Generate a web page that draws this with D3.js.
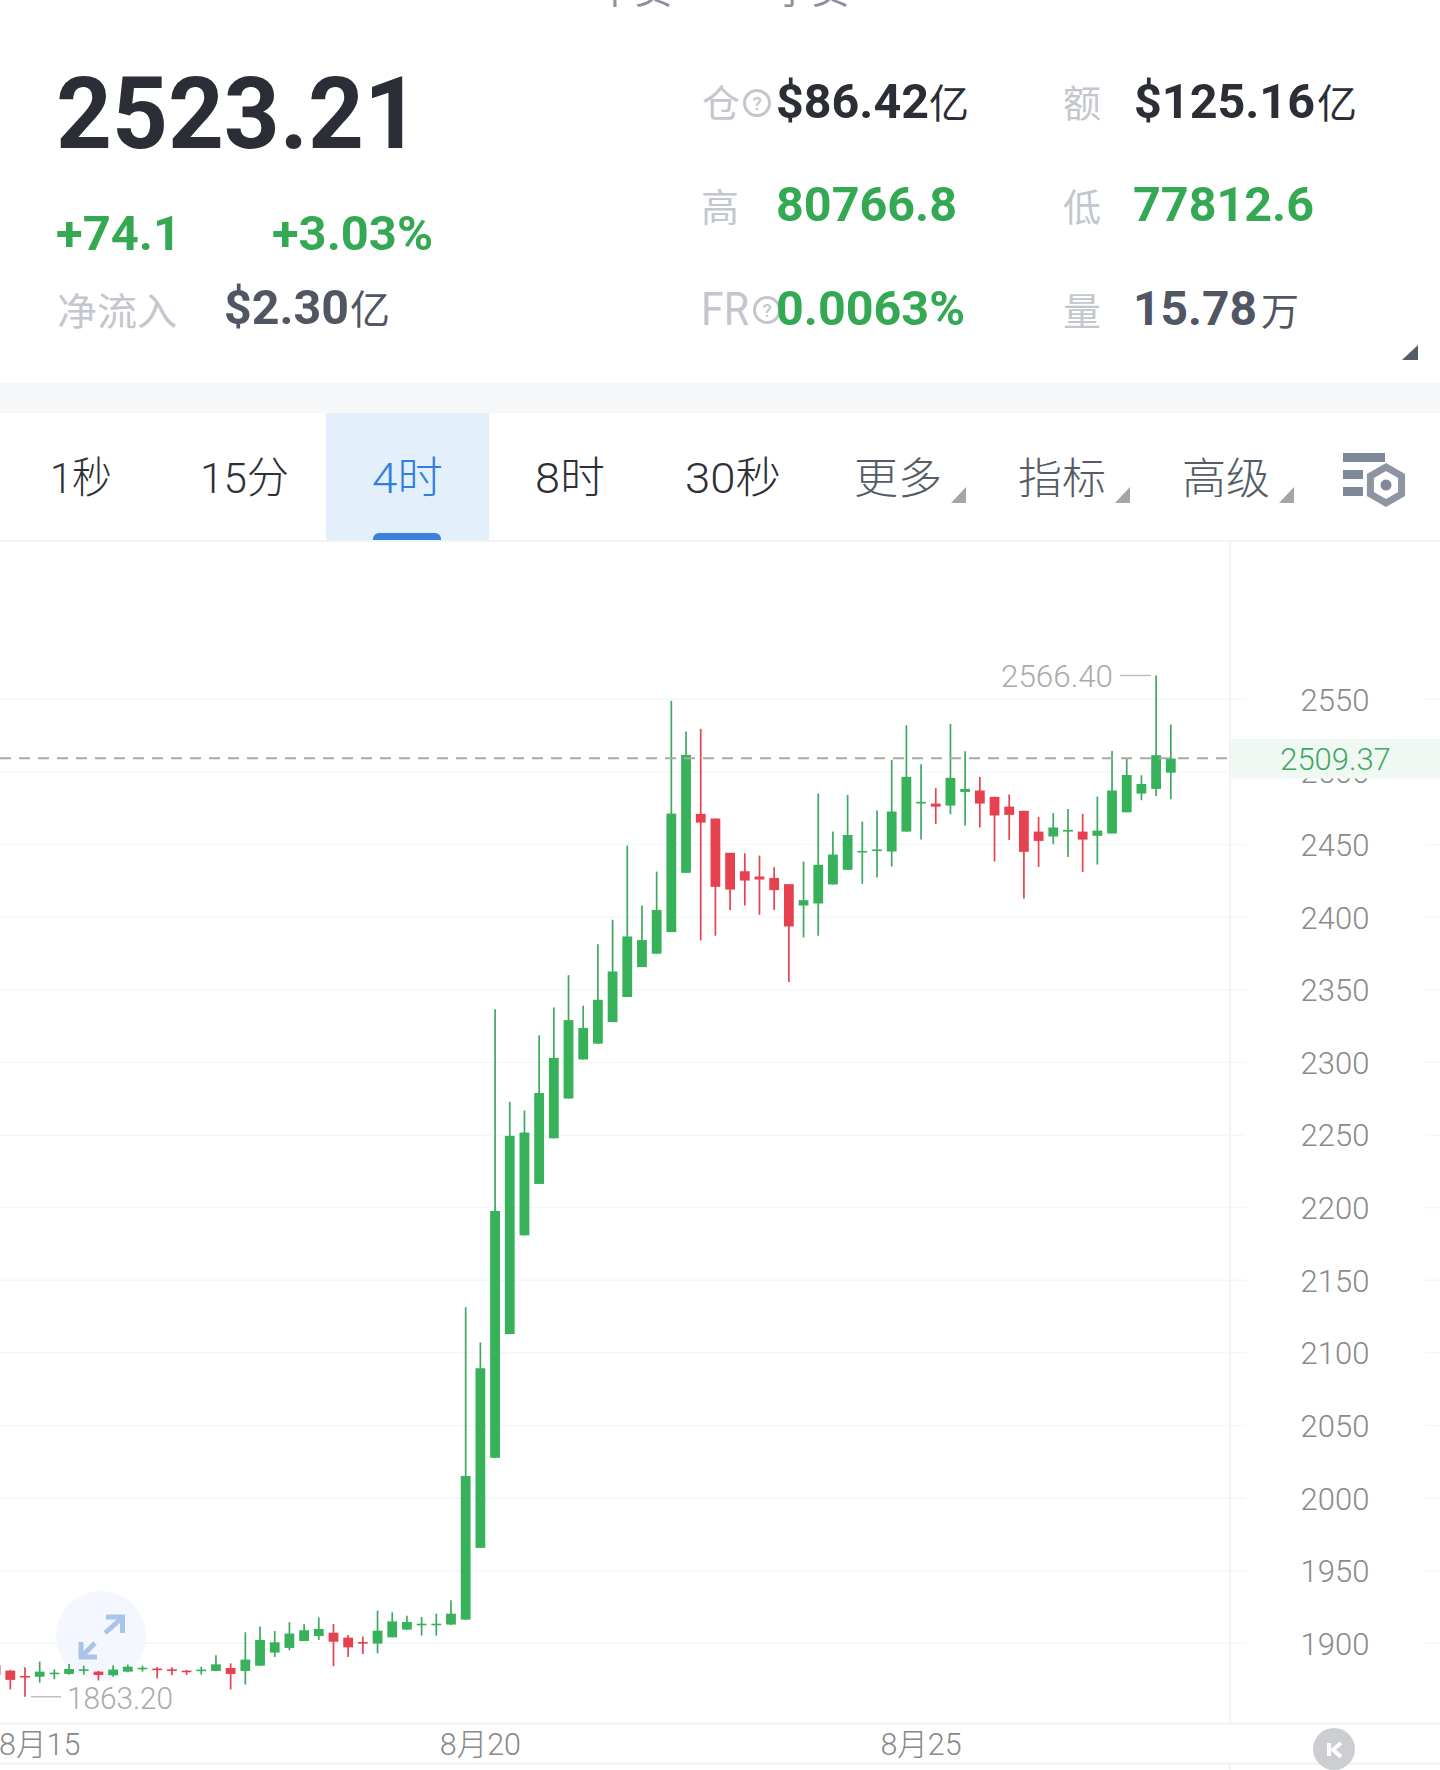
<!DOCTYPE html>
<html><head><meta charset="utf-8">
<script src="https://cdn.jsdelivr.net/npm/d3@7"></script>
<style>html,body{margin:0;background:#fff}svg{display:block}text{font-family:Roboto,"Noto Sans CJK SC",sans-serif}</style>
</head><body><svg id="c" width="1440" height="1770"></svg>
<script>
// Candles: open, high, low, close
const opens=[1885,1881.2,1877.5,1877,1878.9,1878.9,1881.4,1880.5,1878,1880.5,1882.3,1882.6,1882.1,1881.2,1881.2,1881,1883,1881,1884.6,1893.6,1896.8,1901.6,1905,1907.3,1903.9,1900.9,1899.8,1904.1,1909.4,1912.9,1912.9,1912.9,1916.3,1965.7,2027.7,2112.9,2180.9,2216.3,2247.7,2275.1,2302,2312.9,2327.7,2345,2365.6,2374.8,2389.7,2430.5,2471.1,2467.9,2444.3,2431.6,2428,2427,2422.7,2408,2409.4,2422.5,2432.6,2444.7,2445.6,2445.2,2458.9,2478.4,2478.2,2476.8,2486.2,2487.2,2482.8,2476.1,2473.2,2458.9,2455.5,2458.9,2458.9,2456,2457.6,2472.2,2485.1,2488.3,2499.5];
const highs=[1886,1881.6,1883.5,1887.4,1882.1,1885.8,1884.6,1881,1884.9,1885.3,1884.6,1883.7,1883.5,1881.6,1883.9,1891.7,1886.2,1907.6,1911.5,1908.5,1914.5,1913.1,1917.9,1913.3,1905.7,1904.6,1922.5,1921.3,1919,1918.1,1920.4,1929.6,2131.4,2107.1,2336.6,2272.9,2266.9,2318.6,2337.8,2360,2339,2381.4,2398.2,2449.3,2408,2431.4,2549,2527.8,2529.6,2467.9,2444.3,2444,2442.4,2434.4,2422.7,2438.3,2485.1,2458.9,2484.2,2465.8,2473.4,2508.3,2532.1,2505.3,2488.8,2533,2514.2,2496.6,2483,2484.4,2473.2,2469,2471.6,2474.5,2471.1,2483,2514.4,2509.2,2497.7,2566.4,2532.6];
const lows=[1878,1868.3,1863.2,1872.9,1875.2,1878.4,1878.4,1874.5,1877,1880,1880.5,1875.9,1878,1878.2,1878.4,1880.7,1868.3,1871.5,1884.6,1890.6,1895.2,1901.6,1902.3,1884.2,1890.6,1892.7,1893.1,1904.1,1909.4,1905.3,1905.3,1912.6,1916.3,1965.7,2027.7,2112.9,2180.9,2216.3,2247.7,2275.1,2302,2312.9,2327.7,2345,2365.6,2374.8,2389.7,2430.5,2384,2387.2,2405,2408,2401.6,2405,2355.3,2386,2387.2,2422.5,2432.6,2423,2427.3,2434.9,2458.9,2453.4,2464.2,2470.9,2463.1,2461.7,2438.3,2453.2,2412.8,2434.6,2450.2,2441.5,2431,2436.2,2457.6,2472.2,2480.5,2483.5,2481.2];
const closes=[1878,1874.8,1876.6,1880.5,1879.8,1882.3,1882.1,1878.2,1881.9,1883.9,1883.2,1882.1,1881.4,1880.7,1881.9,1885.5,1878.9,1888.8,1902.3,1900.7,1906.7,1909,1909.9,1901.1,1897.2,1900.2,1908.7,1915.1,1914.7,1913.5,1913.5,1920.4,2015.2,2089.4,2197.7,2249.4,2251.7,2278.9,2303.1,2329.1,2323.7,2343.1,2362.6,2386.7,2384.2,2405,2471.3,2511.7,2465.1,2420.9,2419,2425.2,2425.9,2418.6,2393.6,2411.7,2436,2443.1,2456.6,2445.6,2446.6,2472.7,2496.6,2479.4,2476.1,2495.9,2488.3,2478.2,2470,2470.4,2445,2452.5,2461.7,2460.1,2453.4,2459.6,2487.2,2497.9,2491.7,2511.5,2509.2];
const yTicks=[2550,2500,2450,2400,2350,2300,2250,2200,2150,2100,2050,2000,1950,1900];
const xTickIndex=[3,33,63];
const xTickLabels=["8月15","8月20","8月25"];
const lastPrice=2509.37, maxLabel="2566.40", minLabel="1863.20", maxValue=2566.4, minValue=1863.2;
const tabs=["1秒","15分","4时","8时","30秒"];
const tabMenus=["更多","指标","高级"];

const GREEN="#37b25a",RED="#e5414f",TEXTGREEN="#34a853",LABEL="#c3c7cd",DARK="#2b2e36",SLATE="#505763";
const svg=d3.select("#c");
const x=d3.scaleLinear().domain([0,80]).range([-4.39,1170.8]);
const y=d3.scaleLinear().domain([1900,2550]).range([1643.3,699.3]);

function T(s,px,py,size,color,opt={}){
  const t=svg.append("text").attr("x",px).attr("y",py).attr("font-size",size).attr("fill",color).text(s);
  if(opt.w){t.attr("textLength",opt.w).attr("lengthAdjust","spacingAndGlyphs");}
  if(opt.weight)t.attr("font-weight",opt.weight);
  if(opt.anchor)t.attr("text-anchor",opt.anchor);
  if(opt.family)t.style("font-family",opt.family);
  return t;
}
const CJK='"Noto Sans CJK SC",sans-serif';
// cut-off title at the very top
T("中货",596,3,38,"#8b929c",{family:CJK});
T("季货",773,3,38,"#8b929c",{family:CJK});
// header
T("2523.21",56,148,100,DARK,{weight:700,w:364});
T("+74.1",56,250,48,TEXTGREEN,{weight:700,w:125});
T("+3.03%",272,250,48,TEXTGREEN,{weight:700,w:161});
T("净流入",57,325,38,LABEL,{family:CJK,w:120});
T("$2.30",224,324,48,SLATE,{weight:700,w:125});
T("亿",350,324,40,SLATE,{family:CJK});
function help(cx,cy){
  svg.append("circle").attr("cx",cx).attr("cy",cy).attr("r",12.5).attr("fill","none").attr("stroke",LABEL).attr("stroke-width",3);
  T("?",cx,cy+7,19,LABEL,{anchor:"middle",weight:500});
}
T("仓",702,117,38,LABEL,{family:CJK}); help(757,103);
T("$86.42",776,118,48,DARK,{weight:700,w:153});
T("亿",929,118,40,DARK,{family:CJK});
T("额",1063,117,38,LABEL,{family:CJK});
T("$125.16",1134,118,48,DARK,{weight:700,w:181});
T("亿",1317,118,40,DARK,{family:CJK});
T("高",701,221,38,LABEL,{family:CJK});
T("80766.8",776,221,48,TEXTGREEN,{weight:700,w:181});
T("低",1063,221,38,LABEL,{family:CJK});
T("77812.6",1133,221,48,TEXTGREEN,{weight:700,w:181});
T("FR",701,325,46,LABEL,{w:48}); help(767,310);
T("0.0063%",776,325,48,TEXTGREEN,{weight:700,w:189});
T("量",1063,325,38,LABEL,{family:CJK});
T("15.78",1133,325,48,SLATE,{weight:700,w:124});
T("万",1261,325,38,SLATE,{family:CJK});
svg.append("path").attr("d","M1418,345V360H1402Z").attr("fill","#555c68");
svg.append("rect").attr("x",0).attr("y",383).attr("width",1440).attr("height",30).attr("fill","#f5f7f9");
// tabs
svg.append("rect").attr("x",326).attr("y",413).attr("width",163).attr("height",128).attr("fill","#e3effb");
svg.append("path").attr("d","M373,541V539a6,6 0 0 1 6,-6H435a6,6 0 0 1 6,6V541Z").attr("fill","#3b80dd");
const tabX=[50,200,372,535,685], tabW=[62,89,71,70,96];
tabs.forEach((s,i)=>T(s,tabX[i],493,43,i==2?"#2f7fe0":"#2d3036",{w:tabW[i],weight:300}));
const menuX=[854,1018,1182];
tabMenus.forEach((s,i)=>{
  T(s,menuX[i],494,43,"#555c66",{family:CJK,w:88,weight:300});
  svg.append("path").attr("d",`M${menuX[i]+112},487V503H${menuX[i]+97}Z`).attr("fill","#a5a5a5");
});
[[1343,453,42],[1343,470,20],[1343,487,20]].forEach(d=>svg.append("rect").attr("x",d[0]).attr("y",d[1]).attr("width",d[2]).attr("height",9).attr("fill","#7f8899"));
const hex=d3.range(6).map(k=>{const a=Math.PI/3*k-Math.PI/2;return [1386+18*Math.cos(a),485+18*Math.sin(a)];});
svg.append("polygon").attr("points",hex.join(" ")).attr("fill","none").attr("stroke","#8d95a3").attr("stroke-width",7);
svg.append("circle").attr("cx",1386).attr("cy",485).attr("r",5.5).attr("fill","#7f8899");
// frame
const line=(a,b,c,d,col,w=1.5)=>svg.append("line").attr("x1",a).attr("y1",b).attr("x2",c).attr("y2",d).attr("stroke",col).attr("stroke-width",w);
line(0,541,1440,541,"#f2f3f5",2);
line(1230,541,1230,1723,"#f2f3f4",2);
line(0,1723.5,1440,1723.5,"#f2f3f4",2.5);
line(0,1763.5,1440,1763.5,"#f2f3f4",2.5);
line(1230,1764,1230,1770,"#f2f3f4",2);
// grid
yTicks.forEach(v=>{
  line(0,y(v),1246,y(v),"#f2f6f7",1.4);
  line(1425,y(v),1440,y(v),"#f2f6f7",1.4);
});
yTicks.forEach(v=>T(v,1335,y(v)+11.5,31,"#8a8a8a",{anchor:"middle",weight:300}));
// expand button backdrop
svg.append("circle").attr("cx",101).attr("cy",1636).attr("r",45).attr("fill","#f4f8fe");
// candles
const data=opens.map((o,i)=>({i,o,h:highs[i],l:lows[i],c:closes[i]}));
const cg=svg.append("g").selectAll("g").data(data).join("g");
cg.append("line").attr("x1",d=>x(d.i)).attr("x2",d=>x(d.i)).attr("y1",d=>y(d.h)).attr("y2",d=>y(d.l)).attr("stroke",d=>d.c>=d.o?"#3fa860":RED).attr("stroke-width",1.7);
cg.append("rect").attr("x",d=>x(d.i)-4.9).attr("width",9.8)
  .attr("y",d=>y(Math.max(d.o,d.c))).attr("height",d=>Math.max(1.6,Math.abs(y(d.o)-y(d.c))))
  .attr("fill",d=>d.c>=d.o?GREEN:RED);
// expand arrows
svg.append("path").attr("d","M105,1633L122,1618M106,1617H122.5V1633M95,1643L82,1656M81,1642V1657H97").attr("fill","none").attr("stroke","#a9c4ea").attr("stroke-width",5);
// current price
svg.append("rect").attr("x",1231).attr("y",739).attr("width",209).attr("height",39.5).attr("fill","#f0f8f3");
svg.append("line").attr("x1",0).attr("x2",1231).attr("y1",y(lastPrice)).attr("y2",y(lastPrice)).attr("stroke","#a9a9a9").attr("stroke-width",2).attr("stroke-dasharray","11,8");
T(lastPrice.toFixed(2),1335.5,y(lastPrice)+11.5,31,"#3fa860",{anchor:"middle",weight:300});
// extremes
T(maxLabel,1001,y(maxValue)+12,31,"#aaaaaa",{w:112,weight:300});
line(1120,y(maxValue),1151,y(maxValue),"#bbbbbb",1.4);
T(minLabel,67,y(minValue)+12,31,"#aaaaaa",{w:106,weight:300});
line(31,y(minValue),61,y(minValue),"#bbbbbb",1.4);
// x axis
xTickIndex.forEach((k,i)=>T(xTickLabels[i],x(k),1755,30.5,"#888888",{anchor:"middle",weight:300}));
// K button
svg.append("circle").attr("cx",1334).attr("cy",1749).attr("r",21).attr("fill","#cdced1");
svg.append("path").attr("d","M1329,1743V1756M1341,1743L1333,1749.5L1341,1757").attr("fill","none").attr("stroke","#fff").attr("stroke-width",4);
</script></body></html>
